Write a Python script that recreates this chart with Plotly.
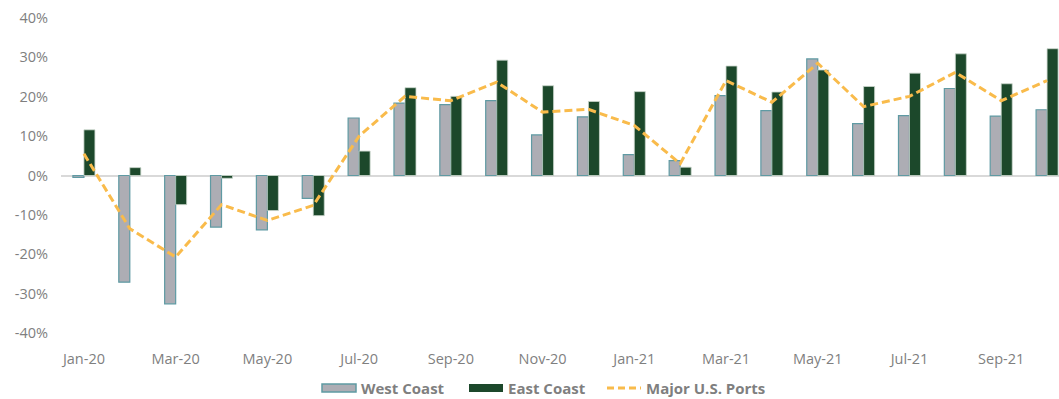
import plotly.graph_objects as go

months = ["Jan-20", "Feb-20", "Mar-20", "Apr-20", "May-20", "Jun-20", "Jul-20", "Aug-20",
          "Sep-20", "Oct-20", "Nov-20", "Dec-20", "Jan-21", "Feb-21", "Mar-21", "Apr-21",
          "May-21", "Jun-21", "Jul-21", "Aug-21", "Sep-21", "Oct-21"]

# Year-over-year change in container volumes (%)
west_coast = [-0.5, -27.1, -32.6, -13.1, -13.8, -5.8, 14.6, 18.4, 18.0, 19.0, 10.3, 14.9,
              5.3, 3.8, 20.3, 16.5, 29.6, 13.2, 15.2, 22.1, 15.1, 16.7]
east_coast = [11.6, 2.0, -7.4, -0.7, -8.9, -10.2, 6.2, 22.3, 20.1, 29.3, 22.8, 18.8,
              21.3, 2.1, 27.8, 21.2, 26.8, 22.6, 26.0, 30.9, 23.3, 32.2]
major_ports = [5.5, -13.5, -20.7, -7.4, -11.4, -7.6, 10.0, 20.1, 19.0, 23.7, 16.1, 16.8,
               12.7, 3.0, 24.1, 18.6, 28.5, 17.5, 20.1, 26.2, 19.0, 24.1]

y_ticks = [-40, -30, -20, -10, 0, 10, 20, 30, 40]
y_labels = [f"{v}%" for v in y_ticks]

GRAY_TEXT = "#7f7f7f"
WEST_FILL, WEST_EDGE = "#adadb4", "#5f9aa3"
EAST_FILL, EAST_EDGE = "#1c482b", "#c9d6cc"
PORTS_COLOR = "#f9bb4b"
PORTS_DASH = "8px,4px"

fig = go.Figure()
fig.add_trace(go.Bar(
    x=months, y=west_coast, name="West Coast",
    marker=dict(color=WEST_FILL, line=dict(color=WEST_EDGE, width=1.2)),
))
fig.add_trace(go.Bar(
    x=months, y=east_coast, name="East Coast",
    marker=dict(color=EAST_FILL, line=dict(color=EAST_EDGE, width=0.8)),
))
fig.add_trace(go.Scatter(
    x=months, y=major_ports, name="Major U.S. Ports", mode="lines",
    line=dict(color=PORTS_COLOR, width=3, dash=PORTS_DASH),
))

# Legend drawn below the plot with wide swatches (paper coordinates)
PLOT_L, PLOT_W, PLOT_B, PLOT_H = 61, 998, 333, 315


def px_x(p):
    return (p - PLOT_L) / PLOT_W


def px_y(p):
    return (PLOT_B - p) / PLOT_H


legend_row = 388
legend_items = [
    ("West Coast", 322, dict(type="rect", fillcolor=WEST_FILL, line=dict(color=WEST_EDGE, width=1.5))),
    ("East Coast", 469, dict(type="rect", fillcolor=EAST_FILL, line=dict(width=0))),
    ("Major U.S. Ports", 607, dict(type="line", line=dict(color=PORTS_COLOR, width=3, dash="7px,4px"))),
]
shapes, annotations = [], []
for label, left, style in legend_items:
    sw = 34
    if style["type"] == "rect":
        shapes.append(dict(xref="paper", yref="paper",
                           x0=px_x(left), x1=px_x(left + sw),
                           y0=px_y(legend_row + 4), y1=px_y(legend_row - 4), **style))
    else:
        shapes.append(dict(xref="paper", yref="paper",
                           x0=px_x(left), x1=px_x(left + sw),
                           y0=px_y(legend_row), y1=px_y(legend_row), **style))
    annotations.append(dict(
        xref="paper", yref="paper", x=px_x(left + sw + 3), y=px_y(legend_row),
        xanchor="left", yanchor="middle", showarrow=False, text=label,
        font=dict(size=15, color=GRAY_TEXT, weight="bold"),
    ))

fig.update_layout(
    width=1059, height=399,
    margin=dict(l=PLOT_L, r=0, t=18, b=66),
    paper_bgcolor="white", plot_bgcolor="white",
    barmode="group", bargap=0.52, bargroupgap=0,
    font=dict(family="Open Sans, sans-serif", color=GRAY_TEXT, size=14),
    showlegend=False,
    shapes=shapes, annotations=annotations,
    xaxis=dict(
        type="category", range=[-0.5, 21.26],
        tickmode="array", tickvals=months[::2], ticktext=months[::2],
        showgrid=False, showline=False, ticks="", ticklabelstandoff=15,
        tickfont=dict(size=14.5, color=GRAY_TEXT),
    ),
    yaxis=dict(
        range=[-40, 40], tickmode="array", tickvals=y_ticks, ticktext=y_labels,
        showgrid=False, showline=False, ticks="",
        zeroline=True, zerolinecolor="#d9d9d9", zerolinewidth=1.5,
        tickfont=dict(size=14.5, color=GRAY_TEXT), ticklabelstandoff=12,
    ),
)

fig.write_html("out.html")
